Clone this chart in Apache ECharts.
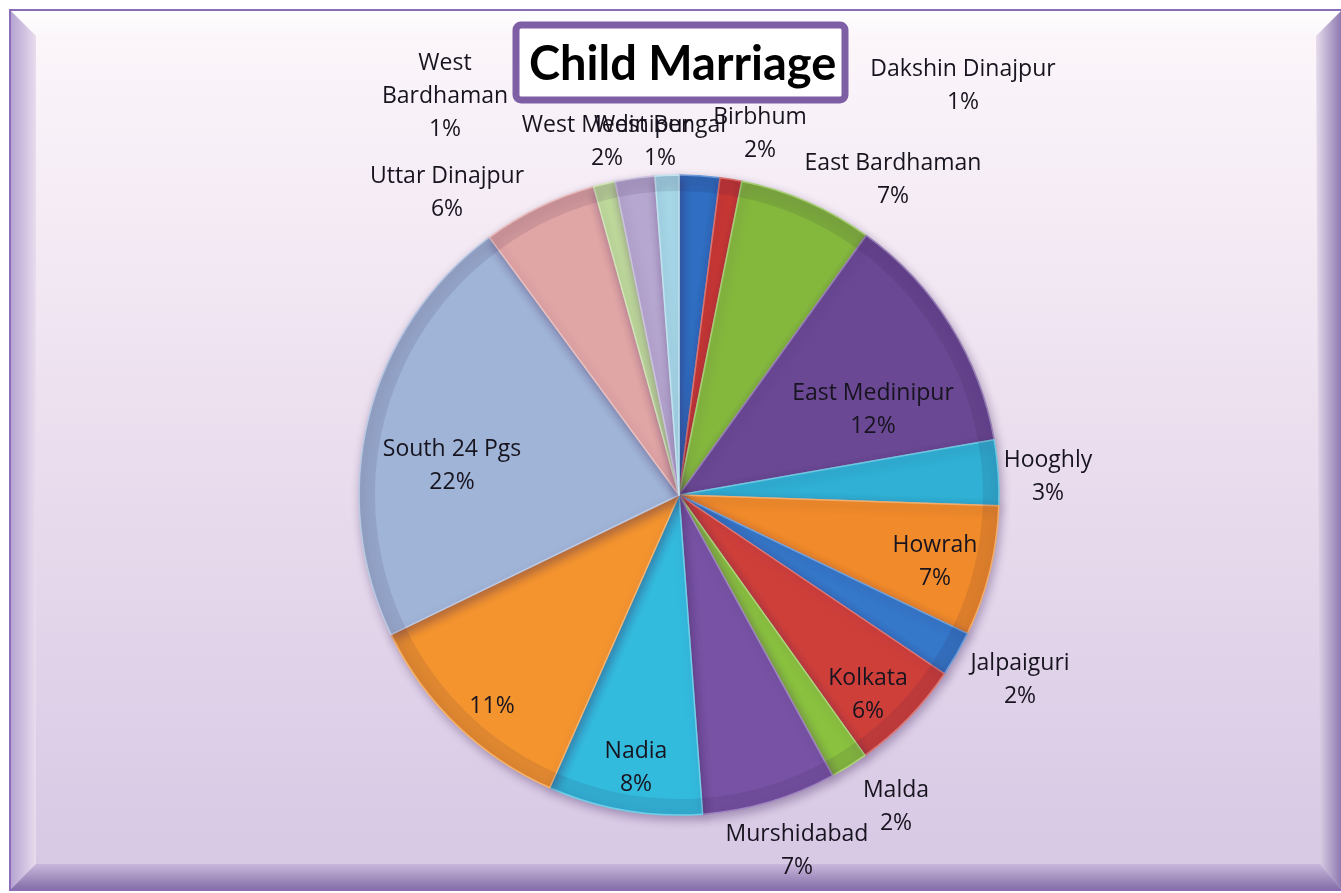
<!DOCTYPE html>
<html>
<head>
<meta charset="utf-8">
<title>Child Marriage</title>
<script src="https://cdn.jsdelivr.net/npm/echarts@6/dist/echarts.min.js"></script>
<style>
html, body { margin: 0; padding: 0; background: #ffffff; }
#chart { width: 1341px; height: 893px; }
</style>
</head>
<body>
<div id="chart"></div>
<script>
"use strict";

/*----- data -----*/
var districts = ['Birbhum', 'Dakshin Dinajpur', 'East Bardhaman', 'East Medinipur', 'Hooghly',
	'Howrah', 'Jalpaiguri', 'Kolkata', 'Malda', 'Murshidabad', 'Nadia', 'North 24 Pgs',
	'South 24 Pgs', 'Uttar Dinajpur', 'West Bardhaman', 'West Medinipur', 'West Bengal'];
var shares = [2.05, 1.1, 6.8, 12.3, 3.3, 6.6, 2.3, 5.7, 1.9, 6.8, 7.8, 11.2, 22.1, 5.8, 1.1, 2.0, 1.2];
// name text as it shows on each label ('' = only the percent)
var labelNames = ['Birbhum', 'Dakshin Dinajpur', 'East Bardhaman', 'East Medinipur', 'Hooghly',
	'Howrah', 'Jalpaiguri', 'Kolkata', 'Malda', 'Murshidabad', 'Nadia', '',
	'South 24 Pgs', 'Uttar Dinajpur', 'West\nBardhaman', 'West Medinipur', 'West Bengal'];

/*----- styles -----*/
var sliceColors = ['#2f6ec2', '#c83733', '#84b83d', '#6a4894', '#2fb0d4', '#f08a2a',
	'#3577c9', '#cf3f3a', '#8ac23f', '#7853a5', '#33bbde', '#f3942f',
	'#a0b4d7', '#e0a5a5', '#bfda9b', '#b6a7d0', '#a6d8e8'];
// label centres in pixels
var labelPos = [[760, 134], [963, 86], [893, 180], [873, 410], [1048, 477],
	[935, 562], [1020, 680], [868, 695], [896, 807], [797, 851], [636, 768], [492, 706],
	[452, 466], [447, 193], [445, 96], [607, 142], [660, 142]];

var pieData = districts.map(function (d, i) {
	return {
		name: d,
		value: shares[i],
		itemStyle: {
			color: sliceColors[i],
			borderColor: echarts.color.lift(sliceColors[i], 0.3)
		}
	};
});
// same slices again, only to shade a bevelled rim
var rimData = districts.map(function (d, i) {
	return { name: d, value: shares[i] };
});

var chart = echarts.init(document.getElementById('chart'));

function bevel(points, from, to, x, y, x2, y2) {
	return {
		type: 'polygon',
		shape: { points: points },
		style: {
			fill: {
				type: 'linear', x: x, y: y, x2: x2, y2: y2,
				colorStops: [{ offset: 0, color: from }, { offset: 1, color: to }]
			}
		},
		silent: true
	};
}

var option = {
	backgroundColor: '#ffffff',
	animation: false,
	graphic: [
		{
			type: 'rect',
			shape: { x: 10, y: 10, width: 1340, height: 880 },
			style: {
				fill: {
					type: 'linear', x: 0, y: 0, x2: 0, y2: 1,
					colorStops: [
						{ offset: 0, color: '#fdf7fb' },
						{ offset: 0.45, color: '#ece0ef' },
						{ offset: 1, color: '#d6c7e4' }
					]
				},
				stroke: '#8b6cb9',
				lineWidth: 2
			},
			silent: true,
			z: -10
		},
		bevel([[11, 11], [1341, 11], [1316, 36], [36, 36]], '#ffffff', '#fbf6fa', 0, 0, 0, 1),
		bevel([[11, 11], [36, 36], [36, 864], [11, 889]], '#b6a4d2', '#e8dced', 0, 0, 1, 0),
		bevel([[1341, 11], [1341, 889], [1320, 864], [1316, 36]], '#e6dcec', '#8e79b0', 0, 0, 1, 0),
		bevel([[11, 889], [36, 864], [1320, 864], [1341, 889]], '#c9b8dc', '#8570a8', 0, 0, 0, 1),
		{
			type: 'rect',
			shape: { x: 516, y: 25, width: 329, height: 75, r: 5 },
			style: { fill: '#ffffff', stroke: '#7e5fa6', lineWidth: 7 },
			silent: true,
			z: 5
		}
	],
	title: {
		text: 'Child Marriage',
		left: 524,
		top: 36,
		textStyle: {
			fontFamily: 'Lato',
			fontWeight: 'bold',
			fontSize: 47,
			color: '#000000'
		},
		z: 10
	},
	series: [{
		type: 'pie',
		center: [679, 495],
		radius: ['0%', 320],
		startAngle: 90,
		clockwise: true,
		avoidLabelOverlap: false,
		data: pieData,
		itemStyle: {
			borderWidth: 1.5,
			shadowBlur: 10,
			shadowOffsetX: 2,
			shadowOffsetY: 4,
			shadowColor: 'rgba(60, 30, 90, 0.35)'
		},
		label: {
			show: true,
			position: 'inside',
			fontFamily: 'Open Sans',
			fontSize: 23,
			lineHeight: 33,
			color: '#17141f',
			align: 'center',
			formatter: function (p) {
				var pct = Math.round(p.percent) + '%';
				var nm = labelNames[p.dataIndex];
				return nm ? nm + '\n' + pct : pct;
			}
		},
		labelLine: { show: false },
		labelLayout: function (p) {
			var pos = labelPos[p.dataIndex];
			return { x: pos[0], y: pos[1], align: 'center', verticalAlign: 'middle' };
		},
		emphasis: { disabled: true },
		z: 2
	}, {
		type: 'pie',
		center: [679, 495],
		radius: [304, 319],
		startAngle: 90,
		clockwise: true,
		silent: true,
		data: rimData,
		label: { show: false },
		labelLine: { show: false },
		itemStyle: {
			color: 'rgba(40, 20, 60, 0.10)',
			borderWidth: 0
		},
		emphasis: { disabled: true },
		z: 3
	}]
};
chart.setOption(option);
window.addEventListener('resize', function () {
	chart.resize();
});
</script>
</body>
</html>
